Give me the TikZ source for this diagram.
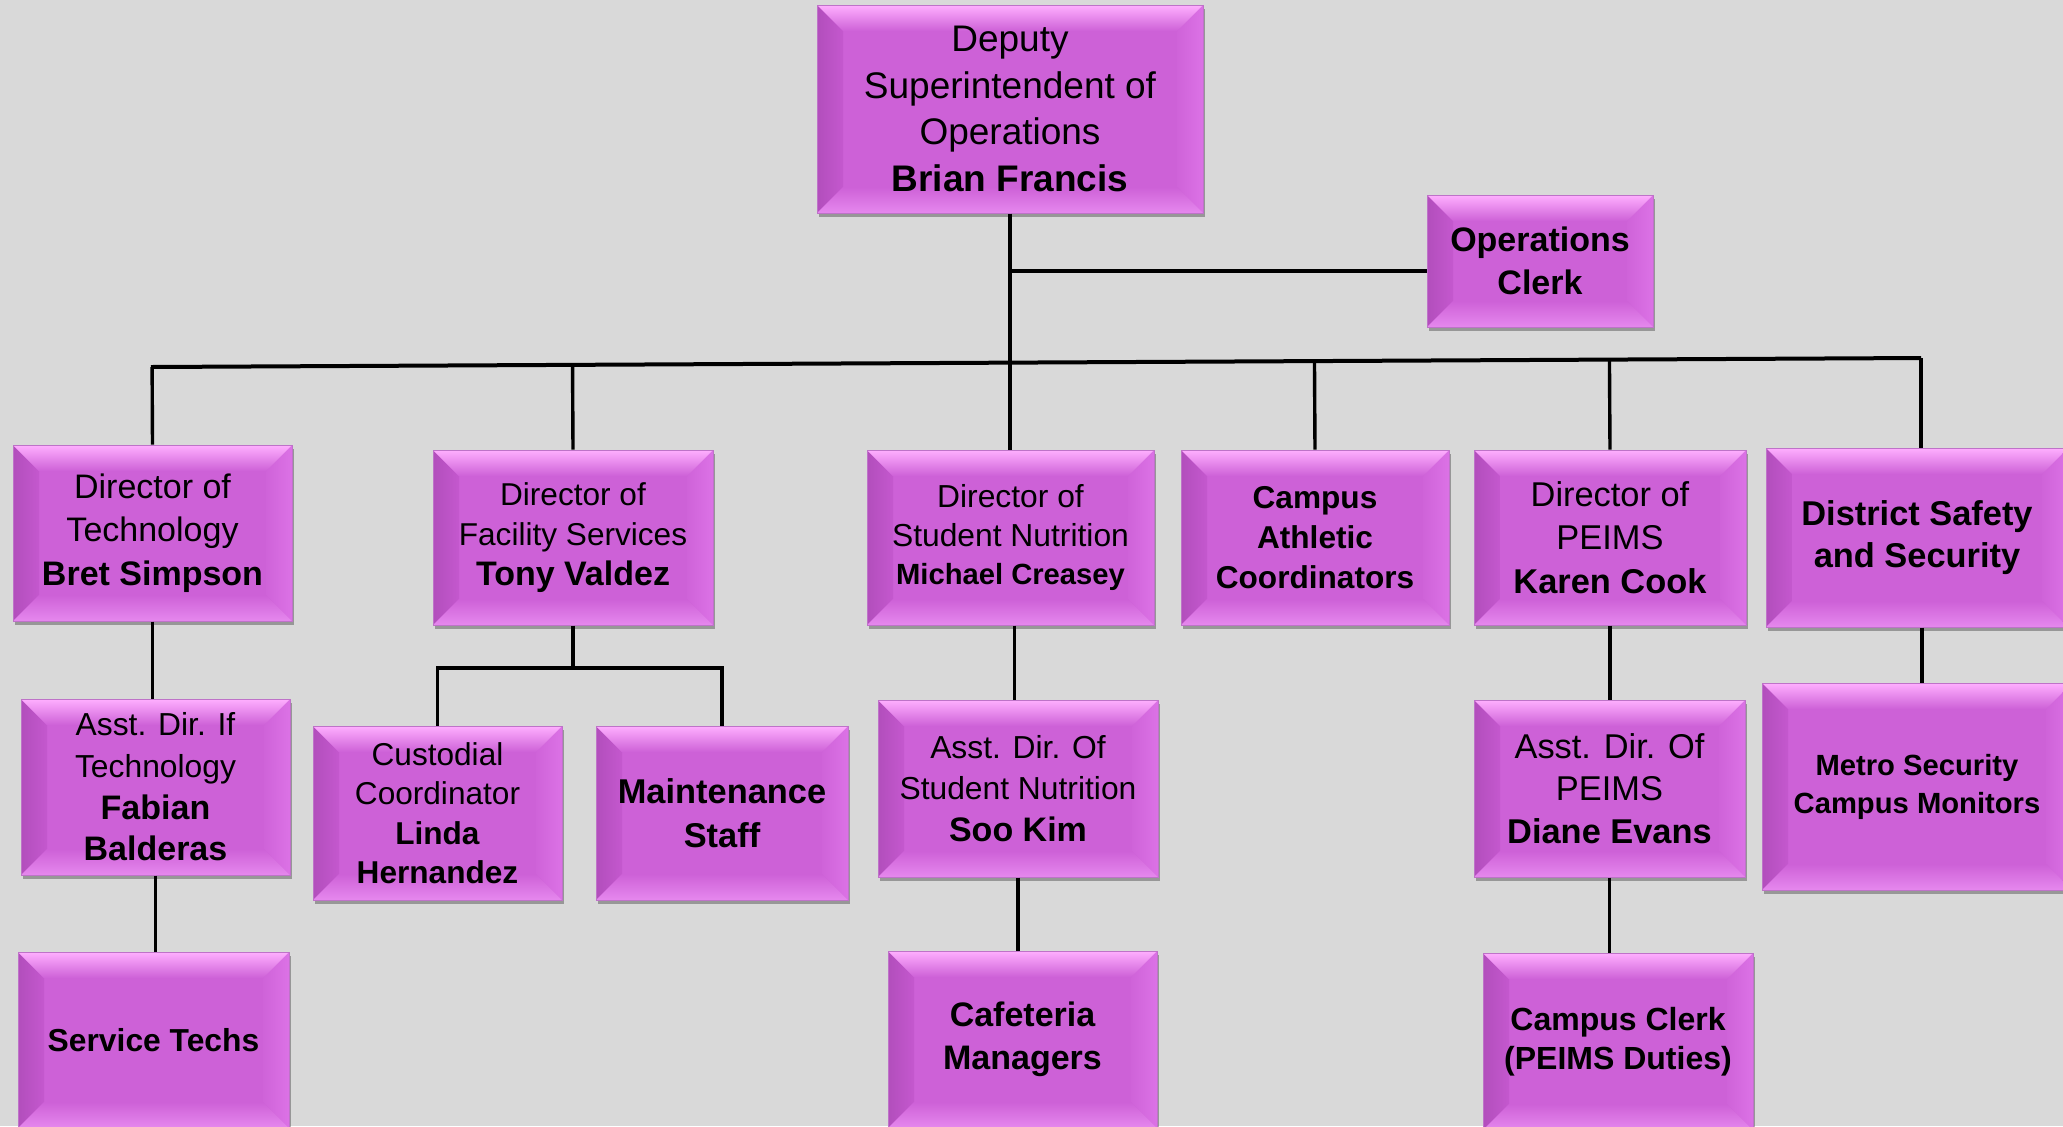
\documentclass[tikz,border=0pt]{standalone}
\usepackage{fontspec}
\setmainfont{Liberation Sans}
\usetikzlibrary{calc,shadows}
\definecolor{bg}{RGB}{217,217,217}
\definecolor{face}{RGB}{205,97,215}
\definecolor{bvtop}{RGB}{255,175,255}
\definecolor{bvtopM}{RGB}{246,158,250}
\definecolor{bvleftA}{RGB}{178,78,188}
\definecolor{bvleftB}{RGB}{196,88,206}
\definecolor{bvrightA}{RGB}{207,99,217}
\definecolor{bvrightB}{RGB}{220,114,230}
\definecolor{bvbot}{RGB}{230,136,238}
\definecolor{edgec}{RGB}{190,115,200}
\newcommand{\bv}{13pt}
\newcommand{\fz}[2]{\fontsize{#1}{#2}\selectfont}
\tikzset{
  orgbox/.style={draw=edgec, line width=0.5pt, fill=face, inner sep=2pt, align=center, text=black,
    drop shadow={shadow xshift=0.8pt, shadow yshift=-2pt, opacity=0.3, fill=black},
    path picture={
      \path (path picture bounding box.north west) coordinate (pNW)
            (path picture bounding box.north east) coordinate (pNE)
            (path picture bounding box.south west) coordinate (pSW)
            (path picture bounding box.south east) coordinate (pSE);
      \shade[left color=bvleftA, right color=bvleftB] (pNW) -- ([shift={(\bv,-\bv)}]pNW) -- ([shift={(\bv,\bv)}]pSW) -- (pSW) -- cycle;
      \shade[left color=bvrightA, right color=bvrightB] (pNE) -- ([shift={(-\bv,-\bv)}]pNE) -- ([shift={(-\bv,\bv)}]pSE) -- (pSE) -- cycle;
      \shade[top color=face, bottom color=bvbot] (pSW) -- ([shift={(\bv,\bv)}]pSW) -- ([shift={(-\bv,\bv)}]pSE) -- (pSE) -- cycle;
      \shade[top color=bvtop, middle color=bvtopM, bottom color=face] (pNW) -- ([shift={(\bv,-\bv)}]pNW) -- ([shift={(-\bv,-\bv)}]pNE) -- (pNE) -- cycle;
    }},
  trunk/.style={line width=2pt, draw=black},
  drop/.style={line width=1.7pt, draw=black},
}
\begin{document}
\begin{tikzpicture}[x=0.5pt,y=-0.5pt]
\fill[bg] (0,0) rectangle (2063,1126);
\useasboundingbox (0,0) rectangle (2063,1126);

% level 0
\node[orgbox, minimum width=193pt, minimum height=104pt, font=\fz{18.5}{23.2}] (top) at (1010,109)
  {Deputy\\Superintendent of\\Operations\\\textbf{Brian Francis}};
\node[orgbox, minimum width=113pt, minimum height=66pt, font=\fz{17}{21.7}\bfseries] (clerk) at (1540,261)
  {Operations\\Clerk};

% level 1
\node[orgbox, minimum width=139.5pt, minimum height=88pt, font=\fz{17}{21.7}] (tech) at (152.5,533)
  {Director of\\Technology\\\textbf{Bret Simpson}};
\node[orgbox, minimum width=140pt, minimum height=87.5pt, font=\fz{15.8}{20}] (fac) at (573,537.5)
  {Director of\\Facility Services\\\textbf{\fontsize{17}{20}\selectfont Tony Valdez}};
\node[orgbox, minimum width=143.5pt, minimum height=87.5pt, font=\fz{15.9}{19.4}] (nut) at (1010.5,537.5)
  {Director of\\Student Nutrition\\\textbf{\fontsize{14.6}{19.4}\selectfont Michael Creasey}};
\node[orgbox, minimum width=134pt, minimum height=87.5pt, font=\fz{15.8}{20}\bfseries] (ath) at (1315,537.5)
  {Campus\\Athletic\\Coordinators};
\node[orgbox, minimum width=136pt, minimum height=87.5pt, font=\fz{17.2}{21.7}] (peims) at (1610,537.5)
  {Director of\\PEIMS\\\textbf{Karen Cook}};
\node[orgbox, minimum width=151pt, minimum height=89.5pt, font=\fz{17.2}{21}\bfseries] (safe) at (1917,537.5)
  {District Safety\\and Security};

% level 2
\node[orgbox, minimum width=134.5pt, minimum height=88pt, font=\fz{15.9}{20.8}] (atech) at (155.5,787)
  {Asst. Dir. If\\Technology\\\textbf{\fontsize{17}{20.8}\selectfont Fabian}\\\textbf{\fontsize{17}{20.8}\selectfont Balderas}};
\node[orgbox, minimum width=124.5pt, minimum height=87pt, font=\fz{15.8}{19.7}] (cust) at (437.5,813)
  {Custodial\\Coordinator\\\textbf{Linda}\\\textbf{Hernandez}};
\node[orgbox, minimum width=126pt, minimum height=87pt, font=\fz{17.2}{21.7}\bfseries] (maint) at (722,813)
  {Maintenance\\Staff};
\node[orgbox, minimum width=140pt, minimum height=88.5pt, font=\fz{15.9}{20.7}] (anut) at (1018,788.5)
  {Asst. Dir. Of\\Student Nutrition\\\textbf{\fontsize{17}{20.7}\selectfont Soo Kim}};
\node[orgbox, minimum width=135.5pt, minimum height=88.5pt, font=\fz{17.2}{21.4}] (apeims) at (1609.5,788.5)
  {Asst. Dir. Of\\PEIMS\\\textbf{Diane Evans}};
\node[orgbox, minimum width=155pt, minimum height=103.5pt, font=\fz{14.6}{19}\bfseries] (metro) at (1917,786.5)
  {Metro Security\\Campus Monitors};

% level 3
\node[orgbox, minimum width=135.5pt, minimum height=88pt, font=\fz{15.9}{20}\bfseries] (stech) at (153.5,1040)
  {Service Techs};
\node[orgbox, minimum width=134.5pt, minimum height=88.5pt, font=\fz{17}{21.7}\bfseries] (caf) at (1022.5,1039.5)
  {Cafeteria\\Managers};
\node[orgbox, minimum width=135pt, minimum height=88.5pt, font=\fz{16}{19.7}\bfseries] (cclerk) at (1618,1041.5)
  {Campus Clerk\\(PEIMS Duties)};

% connectors
\coordinate (barL) at (151,367);
\coordinate (barR) at (1921,358);
\coordinate (cj) at (1011,271);
\coordinate (fj) at (573,668);
\draw[trunk] (top.south) -- (top.south |- nut.north);
\draw[trunk] (cj) -- (cj -| clerk.west);
\draw[trunk] (barL) -- (barR);
\draw[drop] (tech.north) -- ($(barL)!(tech.north)!(barR)$);
\draw[drop] (fac.north) -- ($(barL)!(fac.north)!(barR)$);
\draw[drop] (ath.north) -- ($(barL)!(ath.north)!(barR)$);
\draw[drop] (peims.north) -- ($(barL)!(peims.north)!(barR)$);
\draw[drop] (barR |- safe.north) -- (barR);
\draw[drop] (tech.south) -- (tech.south |- atech.north);
\draw[drop] (atech.south) -- (atech.south |- stech.north);
\draw[drop] (fac.south) -- (fj);
\draw[drop] (cust.north) |- (fj) -| (maint.north);
\draw[drop] ($(nut.south)+(4,0)$) -- ($(nut.south |- anut.north)+(4,0)$);
\draw[drop] (anut.south) -- (anut.south |- caf.north);
\draw[drop] (peims.south) -- (peims.south |- apeims.north);
\draw[drop] (apeims.south) -- (apeims.south |- cclerk.north);
\draw[drop] ($(safe.south)+(5,0)$) -- ($(safe.south |- metro.north)+(5,0)$);
\end{tikzpicture}
\end{document}
